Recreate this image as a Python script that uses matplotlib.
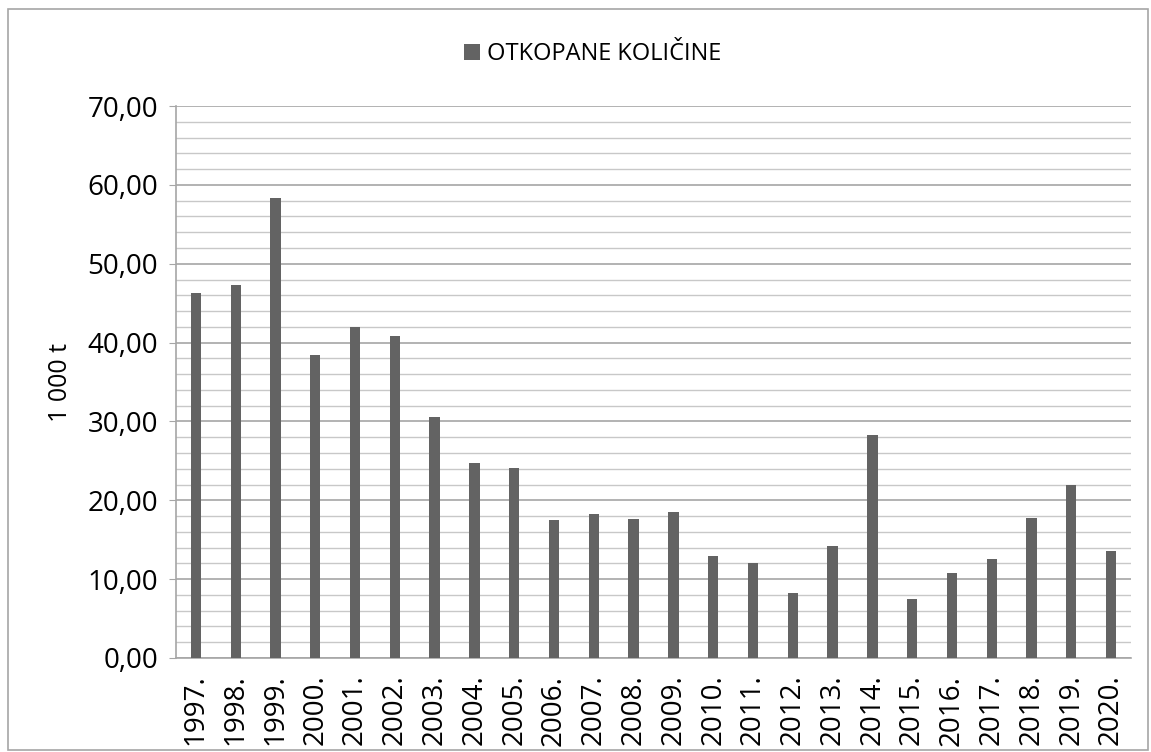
import matplotlib.pyplot as plt
import numpy as np
from matplotlib.patches import Rectangle

years = ["1997.", "1998.", "1999.", "2000.", "2001.", "2002.", "2003.", "2004.",
         "2005.", "2006.", "2007.", "2008.", "2009.", "2010.", "2011.", "2012.",
         "2013.", "2014.", "2015.", "2016.", "2017.", "2018.", "2019.", "2020."]
values = [46.3, 47.3, 58.4, 38.4, 42.0, 40.8, 30.6, 24.7,
          24.1, 17.5, 18.2, 17.6, 18.5, 12.9, 12.0, 8.2,
          14.2, 28.3, 7.5, 10.8, 12.6, 17.8, 22.0, 13.6]
y_ticks = [0, 10, 20, 30, 40, 50, 60, 70]
series_name = "OTKOPANE KOLIČINE"

plt.rcParams['font.family'] = ['Open Sans', 'DejaVu Sans']

fig = plt.figure(figsize=(11.51, 7.52), dpi=100)
ax = fig.add_axes([0.1529, 0.125, 0.8297, 0.734])

x = np.arange(len(years))
ax.bar(x, values, width=0.26, color="#636363", label=series_name, zorder=3)

ax.set_xlim(-0.5, len(years) - 0.5)
ax.set_ylim(0, 70)
ax.set_yticks(y_ticks)
ax.set_yticklabels([("%.2f" % v).replace(".", ",") for v in y_ticks], fontsize=20)
ax.set_yticks(np.arange(0, 70, 2), minor=True)
ax.set_xticks(x)
ax.set_xticklabels(years, rotation=90, fontsize=20)
ax.tick_params(axis='x', length=0, pad=12)
ax.tick_params(axis='y', which='major', length=5, color="#a6a6a6", pad=8)
ax.tick_params(axis='y', which='minor', length=0)

ax.grid(axis='y', which='major', color="#a6a6a6", linewidth=1.2, zorder=0)
ax.grid(axis='y', which='minor', color="#c8c8c8", linewidth=1.0, zorder=0)

for s in ["top", "right"]:
    ax.spines[s].set_visible(False)
for s in ["left", "bottom"]:
    ax.spines[s].set_color("#a6a6a6")
    ax.spines[s].set_linewidth(1.2)

ax.set_ylabel("1 000 t", fontsize=18, labelpad=10)

fig.legend(loc="upper center", bbox_to_anchor=(0.515, 0.972), frameon=False,
           fontsize=17, handlelength=0.7, handleheight=0.7, handletextpad=0.3)

fig.patches.append(Rectangle((0.007, 0.003), 0.99, 0.985, transform=fig.transFigure,
                             fill=False, edgecolor="#a6a6a6", linewidth=1.2))

fig.savefig("out.png", dpi=100)
